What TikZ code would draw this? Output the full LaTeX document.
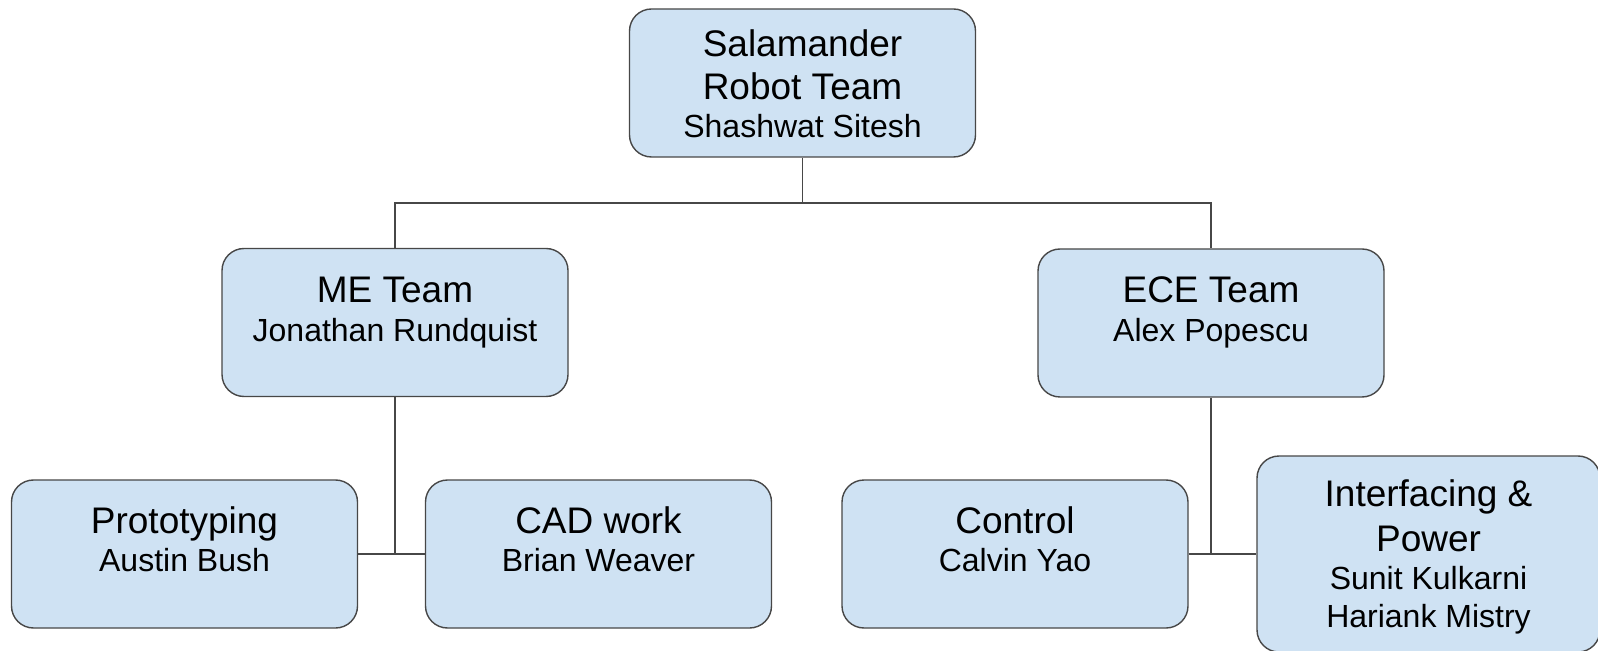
\documentclass[tikz,border=0pt]{standalone}
\usepackage{fontspec}
\setmainfont{Liberation Sans}
\definecolor{boxc}{HTML}{CFE2F3}
\definecolor{linec}{HTML}{474747}
\newcommand\lgf{\fontsize{18.5pt}{19pt}\selectfont}
\newcommand\strt{\rule{0pt}{16pt}}
\tikzset{
  box/.style={draw=linec, fill=boxc, rounded corners=11pt, line width=0.7pt,
    minimum width=173pt, minimum height=74pt, inner sep=0pt},
  txt/.style={align=center, inner sep=0pt, text=black,
    font=\fontsize{16pt}{19pt}\selectfont, anchor=north},
  conn/.style={draw=linec, line width=0.7pt}
}
\begin{document}
\begin{tikzpicture}[x=0.5pt,y=-0.5pt]
\useasboundingbox (0,0) rectangle (1598,651);
\node[box, label={[txt, yshift=-8pt]north:{\lgf\strt Salamander\\[2.5pt] \lgf Robot Team\\ Shashwat Sitesh}}] (top) at (802.5,83) {};
\node[box, label={[txt, yshift=-11pt]north:{\lgf\strt ME Team\\[0.5pt] Jonathan Rundquist}}] (me) at (395,322.5) {};
\node[box, label={[txt, yshift=-11pt]north:{\lgf\strt ECE Team\\[0.5pt] Alex Popescu}}] (ece) at (1211,323) {};
\node[box, label={[txt, yshift=-11pt]north:{\lgf\strt Prototyping\\ Austin Bush}}] (proto) at (184.5,554) {};
\node[box, label={[txt, yshift=-11pt]north:{\lgf\strt CAD work\\ Brian Weaver}}] (cad) at (598.5,554) {};
\node[box, label={[txt, yshift=-11pt]north:{\lgf\strt Control\\ Calvin Yao}}] (ctrl) at (1015,554) {};
\node[box, minimum width=171.5pt, minimum height=98pt, label={[txt, yshift=-9.5pt]north:{\lgf\strt Interfacing \&\\[3.5pt] \lgf Power\\ Sunit Kulkarni\\ Hariank Mistry}}] (intf) at (1428.5,554) {};
\coordinate (hub) at (802.5,203);
\draw[conn] (top.south) -- (hub);
\draw[conn] (me.north) |- (hub) -| (ece.north);
\draw[conn] (me.south) -- (proto.east -| me.south);
\draw[conn] (proto.east) -- (cad.west);
\draw[conn] (ece.south) -- (ctrl.east -| ece.south);
\draw[conn] (ctrl.east) -- (intf.west);
\end{tikzpicture}
\end{document}
